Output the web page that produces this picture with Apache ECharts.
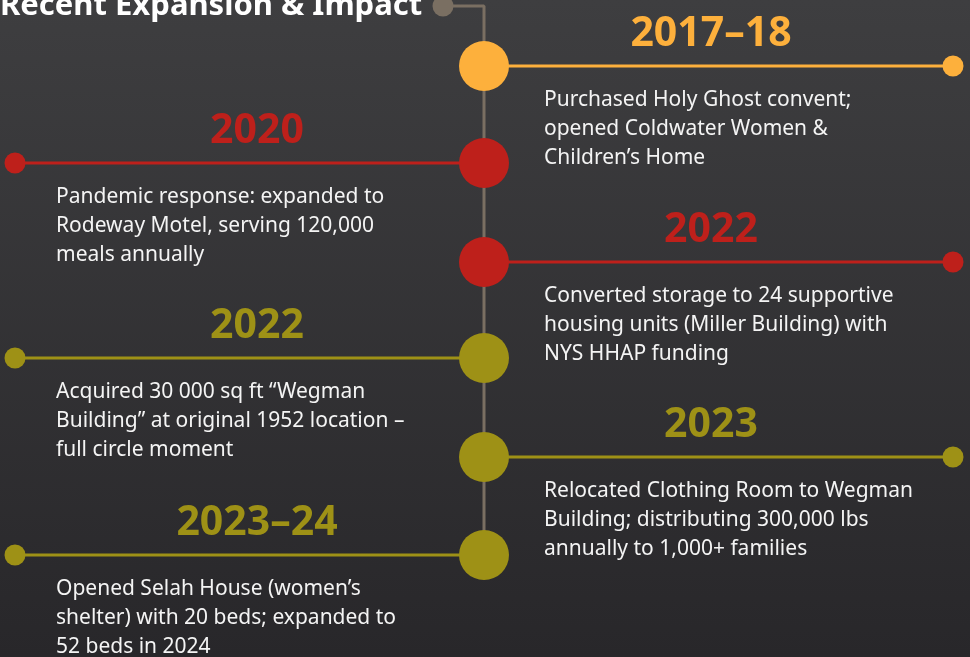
<!DOCTYPE html>
<html>
<head>
<meta charset="utf-8">
<style>
  html, body { margin: 0; padding: 0; }
  #chart-panel { width: 970px; height: 657px; }
</style>
<script src="https://cdn.jsdelivr.net/npm/echarts@6/dist/echarts.min.js"></script>
</head>
<body>
<div id="chart-panel"></div>
<script>
var title = 'Recent Expansion & Impact';
var years = ['2017\u201318', '2020', '2022', '2022', '2023', '2023\u201324'];
var descriptions = [
  'Purchased Holy Ghost convent;\nopened Coldwater Women &\nChildren\u2019s Home',
  'Pandemic response: expanded to\nRodeway Motel, serving 120,000\nmeals annually',
  'Converted storage to 24 supportive\nhousing units (Miller Building) with\nNYS HHAP funding',
  'Acquired 30 000 sq ft \u201cWegman\nBuilding\u201d at original 1952 location \u2013\nfull circle moment',
  'Relocated Clothing Room to Wegman\nBuilding; distributing 300,000 lbs\nannually to 1,000+ families',
  'Opened Selah House (women\u2019s\nshelter) with 20 beds; expanded to\n52 beds in 2024'
];
var sides = ['right', 'left', 'right', 'left', 'right', 'left'];
var colors = ['#fdb03c', '#be201b', '#be201b', '#9e9116', '#9e9116', '#9e9116'];

// layout (pixel-like units on a 970 x 657 canvas)
var rowY = [66, 163, 262, 358, 457, 555];
var spineX = 484;
var spineColor = '#7a6f62';

var chart = document.getElementById('chart-panel');
var myChart = echarts.init(chart);

var series = [];

// spine
series.push({
  type: 'line',
  data: [[443, 6], [spineX, 6], [spineX, rowY[rowY.length - 1]]],
  symbol: 'none',
  lineStyle: { color: spineColor, width: 3 },
  z: 1,
  silent: true
});
series.push({
  type: 'scatter',
  data: [[443, 6]],
  symbolSize: 21,
  itemStyle: { color: spineColor, opacity: 1 },
  z: 3,
  silent: true
});

years.forEach(function (yr, i) {
  var y = rowY[i];
  var right = sides[i] === 'right';
  var endX = right ? 953 : 15;
  var c = colors[i];
  series.push({
    type: 'line',
    data: [[spineX, y], [endX, y]],
    symbol: 'none',
    lineStyle: { color: c, width: 3 },
    z: 2,
    silent: true
  });
  series.push({
    type: 'scatter',
    data: [[endX, y]],
    symbolSize: 21,
    itemStyle: { color: c, opacity: 1 },
    z: 3,
    silent: true
  });
  series.push({
    type: 'scatter',
    data: [[spineX, y]],
    symbolSize: 50,
    itemStyle: { color: c, opacity: 1 },
    z: 4,
    silent: true
  });
  // year label
  series.push({
    type: 'scatter',
    data: [[right ? 711 : 257, y - 32]],
    symbolSize: 0,
    itemStyle: { opacity: 1 },
    silent: true,
    z: 5,
    label: {
      show: true,
      position: 'inside',
      formatter: yr,
      color: c,
      fontFamily: 'Noto Sans',
      fontWeight: 'bold',
      fontSize: 41
    }
  });
  // description
  series.push({
    type: 'scatter',
    data: [[right ? 544 : 56, y + 20]],
    symbolSize: 0,
    itemStyle: { opacity: 1 },
    silent: true,
    z: 5,
    label: {
      show: true,
      position: 'inside',
      align: 'left',
      verticalAlign: 'top',
      formatter: descriptions[i],
      color: '#f4f4f4',
      fontFamily: 'Noto Sans',
      fontSize: 21,
      lineHeight: 29
    }
  });
});

var option = {
  backgroundColor: {
    type: 'linear', x: 0, y: 0, x2: 0, y2: 1,
    colorStops: [
      { offset: 0, color: '#3e3e40' },
      { offset: 1, color: '#28272a' }
    ]
  },
  animation: false,
  title: {
    text: title,
    left: -5,
    top: -14,
    textStyle: {
      color: '#ffffff',
      fontFamily: 'Noto Sans',
      fontWeight: 'bold',
      fontSize: 31
    }
  },
  grid: { left: 0, right: 0, top: 0, bottom: 0 },
  xAxis: { type: 'value', min: 0, max: 970, show: false },
  yAxis: { type: 'value', min: 0, max: 657, inverse: true, show: false },
  series: series
};

myChart.setOption(option);
</script>
</body>
</html>
